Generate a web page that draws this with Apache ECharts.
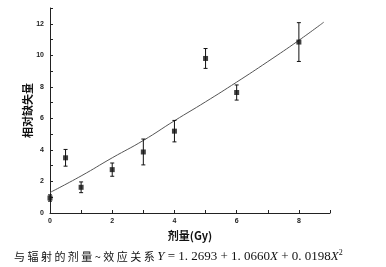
<!DOCTYPE html>
<html>
<head>
<meta charset="utf-8">
<script src="https://cdn.jsdelivr.net/npm/echarts@6/dist/echarts.min.js"></script>
<style>
  html, body { margin: 0; padding: 0; background: #fff; }
  #chart { width: 386px; height: 267px; }
</style>
</head>
<body>
<div id="chart"></div>
<script>
// measured points: dose (Gy), relative loss, error half-width
const doses = [0, 0.5, 1, 2, 3, 4, 5, 6, 8]
const lossValues = [0.95, 3.5, 1.63, 2.75, 3.87, 5.19, 9.8, 7.64, 10.84]
const lossErrors = [0.2, 0.53, 0.34, 0.42, 0.82, 0.68, 0.63, 0.48, 1.23]

// fitted curve
const fitX = [0, 1, 2, 3, 4, 5, 6, 7, 8, 8.8]
const fitY = [1.3, 2.35, 3.5, 4.6, 5.85, 7.05, 8.3, 9.6, 10.95, 12.1]

const caption = '与 辐 射 的 剂 量 ~ 效 应 关 系 '

const chart = echarts.init(document.getElementById('chart'))

const points = doses.map((d, i) => [d, lossValues[i]])
const bars = doses.map((d, i) => [d, lossValues[i] - lossErrors[i], lossValues[i] + lossErrors[i]])
const fitLine = fitX.map((x, i) => [x, fitY[i]])

const evenOnly = v => (v % 2 === 0 ? String(v) : '')

const option = {
  animation: false,
  backgroundColor: '#fff',
  title: {
    left: 9,
    top: 244,
    text: '{cn|' + caption + '}{it|Y}{mt| = 1. 2693 + 1. 0660}{it|X}{mt| + 0. 0198}{it|X}{sup|2}',
    textStyle: {
      fontWeight: 'normal',
      rich: {
        cn: { fontFamily: 'Noto Sans CJK SC', fontSize: 11, fontWeight: 'normal', color: '#111' },
        it: { fontFamily: 'Liberation Serif', fontStyle: 'italic', fontWeight: 'normal', fontSize: 13, color: '#111' },
        mt: { fontFamily: 'Liberation Serif', fontWeight: 'normal', fontSize: 13, color: '#111' },
        sup: { fontFamily: 'Liberation Serif', fontWeight: 'normal', fontSize: 8, color: '#111', padding: [0, 0, 8, 0] }
      }
    }
  },
  grid: { left: 50, right: 56, top: 8, bottom: 54 },
  xAxis: {
    type: 'value',
    min: 0,
    max: 9,
    interval: 1,
    name: '剂量(Gy)',
    nameLocation: 'middle',
    nameGap: 16,
    nameTextStyle: { fontFamily: 'Noto Sans CJK SC', fontSize: 11, fontWeight: 'bold', color: '#111' },
    axisLine: { lineStyle: { color: '#222', width: 1 } },
    axisTick: { inside: true, length: 3, lineStyle: { color: '#222' } },
    axisLabel: { formatter: evenOnly, fontSize: 7, fontWeight: 'bold', color: '#222', margin: 5 },
    splitLine: { show: false }
  },
  yAxis: {
    type: 'value',
    min: 0,
    max: 13,
    interval: 1,
    name: '相对缺失量',
    nameLocation: 'middle',
    nameGap: 17,
    nameMoveOverlap: false,
    nameRotate: 90,
    nameTextStyle: { fontFamily: 'Noto Sans CJK SC', fontSize: 11, fontWeight: 'bold', color: '#111' },
    axisLine: { show: true, lineStyle: { color: '#222', width: 1 } },
    axisTick: { inside: true, length: 3, lineStyle: { color: '#222' } },
    axisLabel: { formatter: evenOnly, fontSize: 7, fontWeight: 'bold', color: '#222', margin: 6 },
    splitLine: { show: false }
  },
  series: [
    {
      type: 'line',
      data: fitLine,
      smooth: true,
      symbol: 'none',
      lineStyle: { color: '#555', width: 1 },
      z: 2
    },
    {
      type: 'custom',
      data: bars,
      renderItem: (params, api) => {
        const x = api.value(0)
        const lo = api.coord([x, api.value(1)])
        const hi = api.coord([x, api.value(2)])
        const cap = 2
        const style = { stroke: '#111', lineWidth: 1 }
        return {
          type: 'group',
          children: [
            { type: 'line', shape: { x1: lo[0], y1: lo[1], x2: hi[0], y2: hi[1] }, style },
            { type: 'line', shape: { x1: lo[0] - cap, y1: lo[1], x2: lo[0] + cap, y2: lo[1] }, style },
            { type: 'line', shape: { x1: hi[0] - cap, y1: hi[1], x2: hi[0] + cap, y2: hi[1] }, style }
          ]
        }
      },
      z: 3
    },
    {
      type: 'scatter',
      data: points,
      symbol: 'rect',
      symbolSize: 5,
      itemStyle: { color: '#111' },
      z: 4
    }
  ]
}

chart.setOption(option)
</script>
</body>
</html>
